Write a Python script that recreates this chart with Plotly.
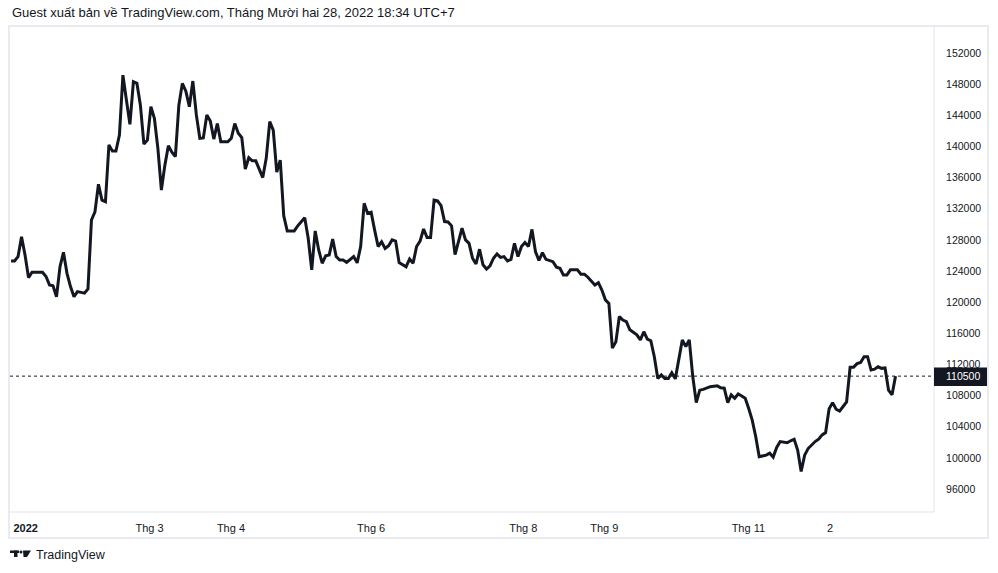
import plotly.graph_objects as go

# ---- data (bar index = trading session number, close price) ----
bar_index = [0, 1, 2, 3, 4, 5, 6, 9, 10, 11, 12, 13, 14, 15, 16, 17, 18, 19, 21, 22,
             23, 24, 25, 26, 27, 28, 29, 30, 31, 32, 33, 34, 35, 36, 37, 38, 39, 40, 41, 42,
             43, 44, 45, 46, 47, 48, 49, 50, 51, 52, 53, 54, 55, 56, 57, 58, 59, 60, 62, 63,
             64, 65, 66, 67, 68, 69, 70, 71, 72, 73, 74, 75, 76, 77, 78, 79, 81, 82, 84, 85,
             86, 87, 88, 89, 90, 91, 92, 93, 94, 95, 96, 98, 99, 100, 101, 102, 103, 104, 105, 106,
             107, 108, 109, 110, 111, 113, 114, 115, 116, 117, 118, 119, 120, 121, 122, 123, 124, 125, 126, 127,
             128, 129, 130, 131, 132, 133, 134, 135, 136, 137, 138, 139, 140, 141, 142, 143, 144, 145, 146, 147,
             148, 149, 150, 151, 152, 153, 155, 156, 157, 158, 159, 160, 162, 163, 164, 165, 167, 168, 169, 170,
             171, 172, 173, 174, 175, 176, 177, 178, 179, 180, 181, 182, 183, 184, 185, 186, 187, 188, 189, 190,
             191, 192, 193, 194, 195, 196, 197, 198, 200, 202, 203, 204, 205, 206, 207, 208, 209, 210, 211, 212,
             213, 214, 216, 217, 218, 219, 220, 222, 223, 224, 225, 226, 227, 228, 230, 231, 232, 233, 234, 235,
             236, 237, 238, 239, 240, 241, 242, 243, 244, 245, 246, 247, 248, 249, 250, 251, 252, 253]

close = [125300, 125300, 125850, 128400, 126050, 123150, 123850, 123850, 123300, 122200, 122100, 120700, 124550, 126400, 123700, 122000, 120700, 121350, 121150, 121700,
         130550, 131600, 135150, 133100, 132900, 140200, 139400, 139400, 141450, 149150, 145950, 142850, 148300, 148100, 145300, 140300, 140800, 145100, 143600, 139750,
         134400, 137600, 140100, 139250, 138700, 145300, 148100, 147100, 145100, 148400, 144050, 141050, 141100, 144050, 143250, 140950, 142950, 140600, 140600, 141050,
         142950, 141700, 141150, 137100, 138550, 138150, 138150, 137000, 136000, 138500, 143200, 142100, 136700, 138250, 131100, 129150, 129150, 129800, 130850, 128200,
         124150, 129150, 126700, 125000, 125950, 126050, 128100, 125850, 125400, 125400, 125100, 125850, 125050, 127150, 132700, 131400, 131550, 129250, 127150, 127750,
         126900, 127250, 128000, 127850, 125100, 124550, 125550, 125000, 127150, 127850, 129400, 128300, 128300, 133100, 133000, 132400, 130350, 130300, 129800, 126100,
         127700, 129500, 128000, 127550, 125650, 124900, 126800, 124800, 124250, 124650, 125650, 126200, 125750, 125850, 125300, 125500, 127550, 125850, 127150, 127650,
         127150, 129350, 126500, 125350, 126350, 125500, 125200, 124500, 124350, 123500, 123500, 124150, 124150, 123600, 123600, 123200, 122200, 122500, 121550, 120300,
         119850, 114100, 114900, 118150, 117700, 117500, 116450, 116100, 115800, 115150, 116200, 115250, 115050, 113000, 110200, 110650, 110200, 110200, 110950, 110150,
         112900, 115150, 114300, 115150, 110450, 107100, 108700, 108800, 109150, 109250, 109000, 108950, 107100, 108100, 107650, 108200, 107950, 107650, 106350, 104850,
         102750, 100150, 100350, 100600, 100100, 101350, 102100, 101950, 102200, 102400, 101000, 98250, 100350, 101200, 102100, 102400, 102950, 103250, 106300, 107100,
         106250, 106000, 106600, 107200, 111650, 111650, 112100, 112250, 113000, 113000, 111300, 111400, 111700, 111500, 111550, 108700, 108100, 110500]

last_price = 110500
x_tick_pos = [4.2, 39.6, 62.9, 103.0, 146.5, 169.7, 210.9, 234.3]
x_tick_text = ["<b>2022</b>", "Thg 3", "Thg 4", "Thg 6", "Thg 8", "Thg 9", "Thg 11", "2"]
y_tick_vals = list(range(96000, 152001, 4000))
y_tick_text = [str(v) for v in y_tick_vals]

title_text = "Guest xuất bản về TradingView.com, Tháng Mười hai 28, 2022 18:34 UTC+7"

# ---- layout geometry (pixels) ----
W, H = 998, 573
L, R, T, B = 10, 934, 26, 512
DARK = "#131722"
BORDER = "#e0e3eb"
FONT = "Liberation Sans"


def px(x):
    return (x - L) / (R - L)


def py(y):
    return (B - y) / (B - T)


fig = go.Figure()
fig.add_trace(go.Scatter(x=bar_index, y=close, mode="lines",
                         line=dict(color=DARK, width=3), hoverinfo="skip",
                         showlegend=False))

shapes = [
    # last price dotted line
    dict(type="line", xref="paper", yref="y", x0=0, x1=1, y0=last_price, y1=last_price,
         line=dict(color=DARK, width=1, dash="dot"), layer="below"),
    # outer frame
    dict(type="rect", xref="paper", yref="paper", x0=px(9), x1=px(988), y0=py(26), y1=py(538),
         line=dict(color="#e9ebf1", width=2), layer="below"),
    # separators
    dict(type="line", xref="paper", yref="paper", x0=px(934), x1=px(934), y0=py(26), y1=py(512),
         line=dict(color=BORDER, width=1)),
    dict(type="line", xref="paper", yref="paper", x0=px(9), x1=px(934), y0=py(512), y1=py(512),
         line=dict(color=BORDER, width=1)),
    # last price label box
    dict(type="rect", xref="paper", yref="paper", x0=px(934), x1=px(987), y0=py(386), y1=py(367.5),
         line=dict(width=0), fillcolor=DARK, layer="above"),
    # TradingView logo (simplified)
    dict(type="rect", xref="paper", yref="paper", x0=px(10), x1=px(19), y0=py(553), y1=py(550.5),
         line=dict(width=0), fillcolor=DARK),
    dict(type="rect", xref="paper", yref="paper", x0=px(14), x1=px(17.5), y0=py(557), y1=py(550.5),
         line=dict(width=0), fillcolor=DARK),
    dict(type="path", xref="paper", yref="paper",
         path=f"M {px(23)},{py(550.5)} L {px(31)},{py(550.5)} L {px(27)},{py(557)} L {px(23.5)},{py(557)} Z",
         line=dict(width=0), fillcolor=DARK),
    dict(type="circle", xref="paper", yref="paper", x0=px(19.5), x1=px(22.5), y0=py(553.5), y1=py(550.5),
         line=dict(width=0), fillcolor=DARK),
]

annotations = [
    dict(text=title_text, xref="paper", yref="paper", x=px(10), y=py(12), xanchor="left",
         yanchor="middle", showarrow=False, font=dict(family=FONT, size=13, color=DARK)),
    dict(text=f"{last_price}", xref="paper", yref="y", x=px(944), y=last_price, xanchor="left",
         yanchor="middle", showarrow=False, font=dict(family=FONT, size=10.5, color="#ffffff")),
    dict(text="TradingView", xref="paper", yref="paper", x=px(34), y=py(555), xanchor="left",
         yanchor="middle", showarrow=False, font=dict(family=FONT, size=12.5, color=DARK)),
]

fig.update_layout(
    width=W, height=H,
    margin=dict(l=L, r=W - R, t=T, b=H - B, pad=0),
    paper_bgcolor="#ffffff", plot_bgcolor="#ffffff",
    showlegend=False,
    shapes=shapes, annotations=annotations,
    xaxis=dict(range=[-0.3, 264], showgrid=False, zeroline=False, showline=False,
               tickmode="array", tickvals=x_tick_pos, ticktext=x_tick_text,
               ticks="outside", ticklen=6, tickcolor="rgba(0,0,0,0)",
               tickfont=dict(family=FONT, size=11, color=DARK), fixedrange=True),
    yaxis=dict(range=[93050, 155470], side="right", showgrid=False, zeroline=False,
               showline=False, tickmode="array", tickvals=y_tick_vals, ticktext=y_tick_text,
               ticks="outside", ticklen=9, tickcolor="rgba(0,0,0,0)",
               tickfont=dict(family=FONT, size=10.5, color=DARK), fixedrange=True),
)

fig.write_html("out.html", config={"displayModeBar": False})
